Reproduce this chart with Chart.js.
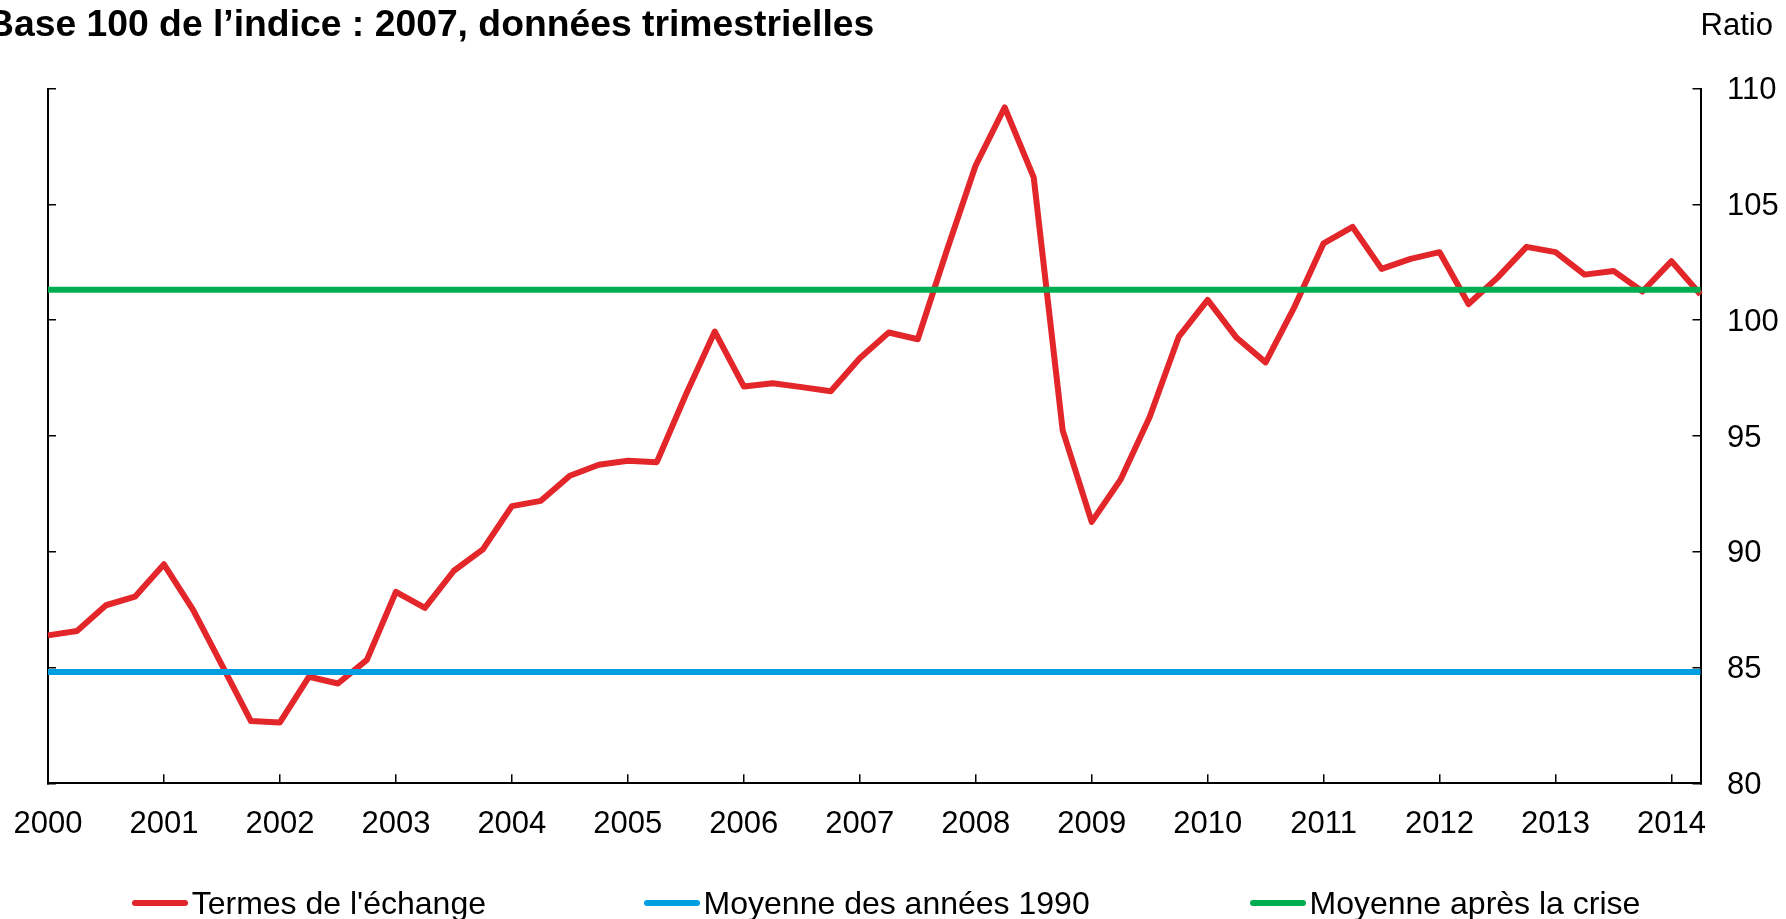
<!DOCTYPE html>
<html lang="fr">
<head>
<meta charset="utf-8">
<script src="https://cdn.jsdelivr.net/npm/chart.js@4.4.1/dist/chart.umd.min.js"></script>
<style>
  html, body { margin: 0; padding: 0; background: #fff; overflow: hidden; }
  #wrap { position: relative; width: 1786px; height: 919px; font-family: 'Liberation Sans', Arial, sans-serif; color: #000; }
  #chart { position: absolute; left: 0; top: 0; }
  .title { position: absolute; left: -13px; top: 5px; font-size: 37.3px; font-weight: bold; line-height: 1; white-space: nowrap; }
  .unit { position: absolute; left: 1700.5px; top: 8.7px; font-size: 31px; line-height: 1; white-space: nowrap; }
  .leg { position: absolute; top: 887px; height: 32px; display: flex; align-items: center; font-size: 32px; line-height: 1; white-space: nowrap; }
  .leg .sw { display: inline-block; width: 56px; height: 6.5px; border-radius: 3.5px; margin-right: 4px; }
</style>
</head>
<body>
<div id="wrap">
  <canvas id="chart" width="1786" height="919"></canvas>
  <div class="title">Base 100 de l’indice : 2007, données trimestrielles</div>
  <div class="unit">Ratio</div>
  <div id="legend"></div>
</div>
<script>
// ---- Data ----
const years = [2000, 2001, 2002, 2003, 2004, 2005, 2006, 2007, 2008, 2009, 2010, 2011, 2012, 2013, 2014];
const quarterCodes = ['T1', 'T2', 'T3', 'T4'];

// Termes de l'échange, 2000T1 .. 2014T2
const termsOfTrade = [
  86.39, 86.58, 87.69, 88.06,
  89.46, 87.50, 85.10, 82.69,
  82.63, 84.60, 84.31, 85.33,
  88.27, 87.58, 89.18, 90.10,
  91.97, 92.20, 93.28, 93.76,
  93.93, 93.87, 96.78, 99.51,
  97.14, 97.28, 97.11, 96.93,
  98.36, 99.47, 99.18, 103.00,
  106.69, 109.19, 106.17, 95.24,
  91.29, 93.12, 95.82, 99.28,
  100.88, 99.24, 98.18, 100.59,
  103.32, 104.03, 102.22, 102.65,
  102.94, 100.70, 101.84, 103.17,
  102.94, 101.97, 102.13, 101.24,
  102.55, 101.11
];
const avg1990s = 84.81;        // Moyenne des années 1990
const avgPostCrisis = 101.32;  // Moyenne après la crise

const yTicks = [80, 85, 90, 95, 100, 105, 110];

const seriesNames = ["Termes de l'échange", 'Moyenne des années 1990', 'Moyenne après la crise'];
const seriesColors = ['#e2262a', '#00a0e0', '#00ad50'];

// categories: quarters
const categories = years.flatMap(y => quarterCodes.map(q => y + q)).slice(0, termsOfTrade.length);
const firstCat = categories[0];
const lastCat = categories[categories.length - 1];
const isYearStart = i => categories[i] !== undefined && categories[i].endsWith('T1');

const FONT = "'Liberation Sans', Arial, sans-serif";

const lineBase = { pointRadius: 0, pointHoverRadius: 0, borderWidth: 6, tension: 0, borderJoinStyle: 'round', fill: false };

const chart = new Chart(document.getElementById('chart'), {
  type: 'line',
  data: {
    labels: categories,
    datasets: [
      Object.assign({}, lineBase, { label: seriesNames[0], data: termsOfTrade, borderColor: seriesColors[0], backgroundColor: seriesColors[0], order: 3 }),
      Object.assign({}, lineBase, { label: seriesNames[1], data: [{ x: firstCat, y: avg1990s }, { x: lastCat, y: avg1990s }], borderColor: seriesColors[1], backgroundColor: seriesColors[1], order: 2 }),
      Object.assign({}, lineBase, { label: seriesNames[2], data: [{ x: firstCat, y: avgPostCrisis }, { x: lastCat, y: avgPostCrisis }], borderColor: seriesColors[2], backgroundColor: seriesColors[2], order: 1 })
    ]
  },
  options: {
    responsive: false,
    animation: false,
    events: [],
    layout: { padding: { left: 48, top: 88.7, right: 0, bottom: 0 } },
    plugins: { legend: { display: false }, title: { display: false }, tooltip: { enabled: false } },
    scales: {
      x: {
        type: 'category',
        offset: false,
        border: { display: true, color: '#000', width: 2 },
        grid: {
          display: true, drawOnChartArea: false, drawTicks: true, tickLength: -9, lineWidth: 1.5,
          color: ctx => isYearStart(ctx.index) ? '#000' : 'rgba(0,0,0,0)'
        },
        ticks: {
          autoSkip: false, maxRotation: 0, minRotation: 0, padding: 32, color: '#000',
          font: { family: FONT, size: 31 },
          callback: (v, i) => isYearStart(i) ? categories[i].slice(0, 4) : ''
        },
        afterFit: s => { s.height = 135.7; s.paddingLeft = 0; s.paddingRight = 0; }
      },
      y: {
        position: 'right', min: yTicks[0], max: yTicks[yTicks.length - 1],
        border: { display: true, color: '#000', width: 2 },
        grid: { display: true, drawOnChartArea: false, drawTicks: true, tickLength: -8, lineWidth: 1.5, color: '#000' },
        ticks: { stepSize: yTicks[1] - yTicks[0], padding: 34.5, labelOffset: 2, color: '#000', font: { family: FONT, size: 31 } },
        afterFit: s => { s.width = 85.5; }
      },
      yL: {
        position: 'left', min: yTicks[0], max: yTicks[yTicks.length - 1],
        border: { display: true, color: '#000', width: 2 },
        grid: { display: true, drawOnChartArea: false, drawTicks: true, tickLength: -8, lineWidth: 1.5, color: '#000' },
        ticks: { display: false, stepSize: yTicks[1] - yTicks[0] },
        afterFit: s => { s.width = 0; }
      }
    }
  }
});

// HTML legend built from the datasets
const legendLeft = [131.7, 643.6, 1249.5];
const legendEl = document.getElementById('legend');
chart.data.datasets.forEach((ds, i) => {
  const item = document.createElement('div');
  item.className = 'leg';
  item.style.left = legendLeft[i] + 'px';
  const sw = document.createElement('span');
  sw.className = 'sw';
  sw.style.background = ds.borderColor;
  const txt = document.createElement('span');
  txt.textContent = ds.label;
  item.appendChild(sw);
  item.appendChild(txt);
  legendEl.appendChild(item);
});
</script>
</body>
</html>
